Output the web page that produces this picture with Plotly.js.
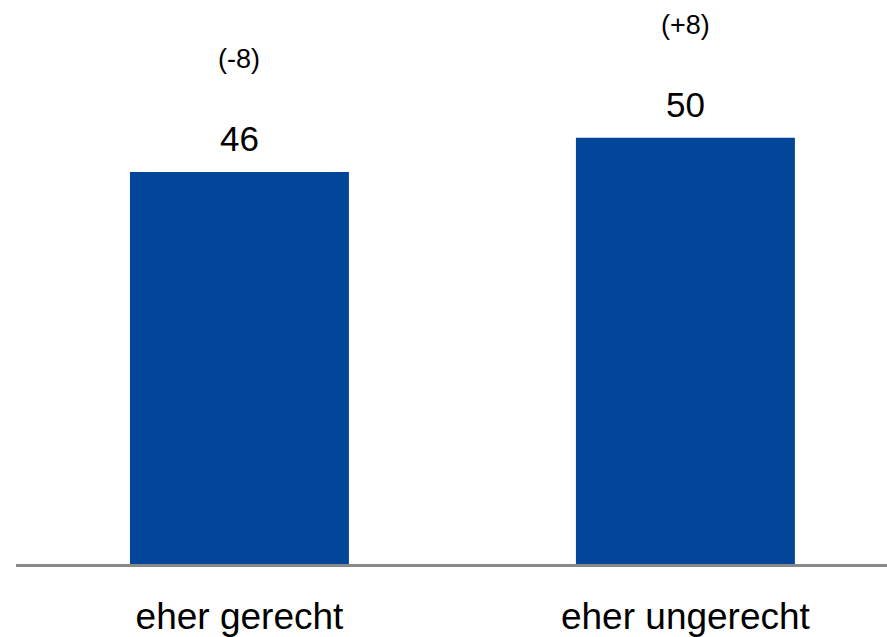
<!DOCTYPE html>
<html>
<head>
<meta charset="utf-8">
<script src="https://cdn.plot.ly/plotly-3.0.1.min.js"></script>
<style>html,body{margin:0;padding:0;background:#fff;}#chart{width:887px;height:637px;}</style>
</head>
<body>
<div id="chart"></div>
<script>
const categories = ["eher gerecht", "eher ungerecht"];
const values = [46, 50];
const changes = ["(-8)", "(+8)"];

const FONT = "Liberation Sans, Arial, sans-serif";
const BAR_COLOR = "#034699";

const annotations = [];
categories.forEach((c, i) => {
  annotations.push({
    x: c, y: values[i], xref: "x", yref: "y",
    text: String(values[i]), showarrow: false,
    yanchor: "bottom", yshift: 12,
    font: {family: FONT, size: 35, color: "#000"}
  });
  annotations.push({
    x: c, y: values[i], xref: "x", yref: "y",
    text: changes[i], showarrow: false,
    yanchor: "bottom", yshift: 96,
    font: {family: FONT, size: 27, color: "#000"}
  });
});

const data = [{
  type: "bar",
  x: categories,
  y: values,
  width: 0.491,
  marker: {color: BAR_COLOR},
  hoverinfo: "none"
}];

const layout = {
  width: 887, height: 637,
  margin: {l: 16, r: 0, t: 10, b: 73},
  paper_bgcolor: "#fff", plot_bgcolor: "#fff",
  showlegend: false,
  xaxis: {
    type: "category",
    range: [-0.501, 1.452],
    showline: true, linecolor: "#888888", linewidth: 3,
    ticks: "", showgrid: false, zeroline: false,
    tickfont: {family: FONT, size: 37, color: "#000"},
    ticklabelstandoff: 18
  },
  yaxis: {
    range: [0, 65],
    visible: false, showgrid: false, zeroline: false
  },
  annotations: annotations
};

Plotly.newPlot("chart", data, layout, {displayModeBar: false, staticPlot: true});
</script>
</body>
</html>
